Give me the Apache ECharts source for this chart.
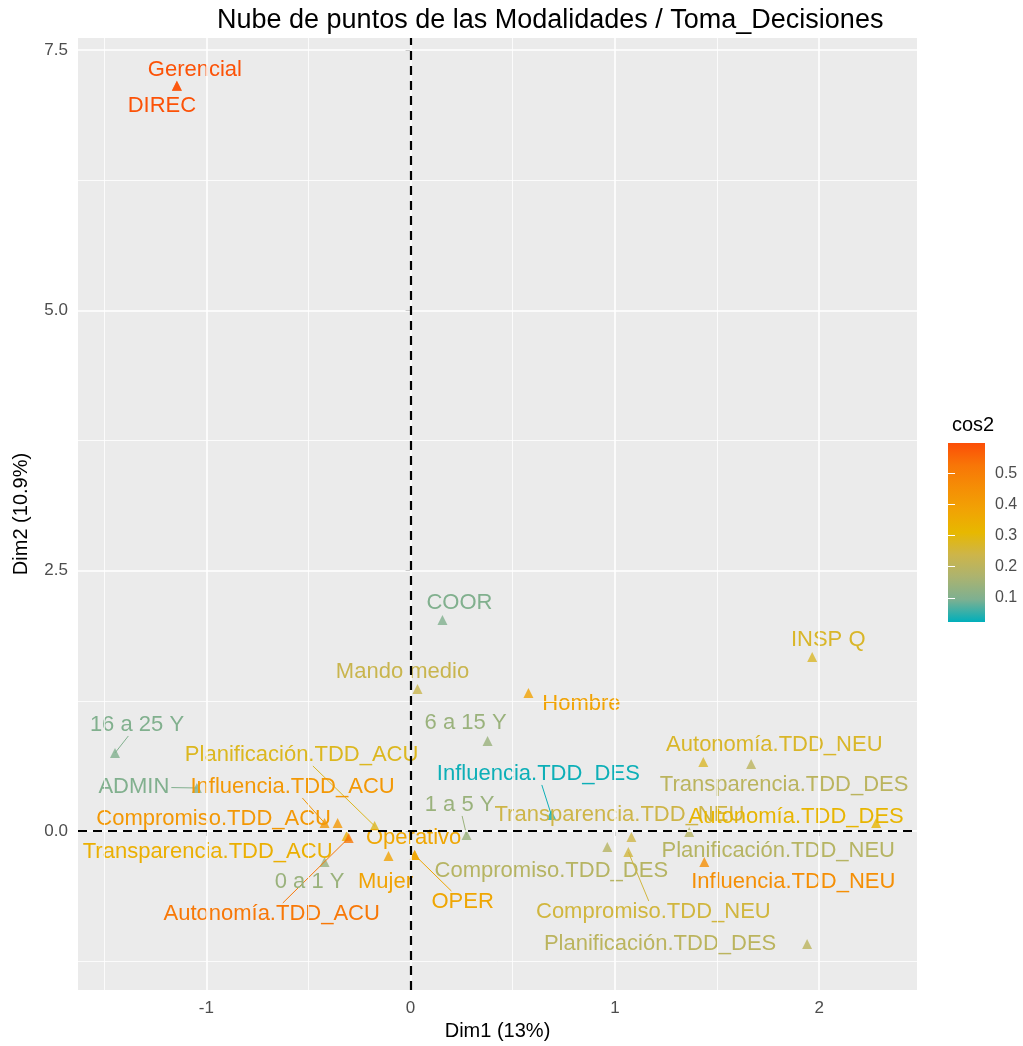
<!DOCTYPE html>
<html>
<head>
<meta charset="utf-8">
<script src="https://cdn.jsdelivr.net/npm/echarts@6/dist/echarts.min.js"></script>
<style>
html, body { margin: 0; padding: 0; background: #fff; }
#chart { width: 1023px; height: 1046px; }
</style>
</head>
<body>
<div id="chart"></div>
<script>
// modalities, coordinates on Dim1/Dim2 and cos2 quality
const labels = [
  'Gerencial', 'DIREC', 'COOR', 'INSP Q', 'Mando medio', 'Hombre',
  '16 a 25 Y', '6 a 15 Y', 'Autonomía.TDD_NEU', 'Transparencia.TDD_DES',
  'ADMIN', 'Planificación.TDD_ACU', 'Influencia.TDD_ACU', 'Compromiso.TDD_ACU',
  'Transparencia.TDD_ACU', 'Autonomía.TDD_ACU', '0 a 1 Y', 'Mujer',
  'Operativo', 'OPER', '1 a 5 Y', 'Influencia.TDD_DES', 'Transparencia.TDD_NEU',
  'Autonomía.TDD_DES', 'Planificación.TDD_NEU', 'Influencia.TDD_NEU',
  'Compromiso.TDD_DES', 'Compromiso.TDD_NEU', 'Planificación.TDD_DES'
];
const dim1 = [
  -1.144, -1.144, 0.156, 1.966, 0.034, 0.577,
  -1.447, 0.377, 1.433, 1.667,
  -1.046, -0.176, -0.421, -0.357,
  -0.313, -0.303, -0.421, -0.108,
  0.020, 0.020, 0.274, 0.689, 1.081,
  2.279, 1.364, 1.438,
  0.963, 1.066, 1.941
];
const dim2 = [
  7.157, 7.157, 2.027, 1.671, 1.364, 1.326,
  0.749, 0.865, 0.663, 0.644,
  0.413, 0.048, 0.077, 0.077,
  -0.048, -0.067, -0.298, -0.240,
  -0.231, -0.231, -0.038, 0.154, -0.058,
  0.077, -0.010, -0.298,
  -0.154, -0.202, -1.085
];
const cos2 = [
  0.59, 0.59, 0.10, 0.27, 0.23, 0.38,
  0.10, 0.14, 0.27, 0.20,
  0.10, 0.28, 0.42, 0.42,
  0.34, 0.52, 0.14, 0.38,
  0.37, 0.37, 0.14, 0.03, 0.24,
  0.32, 0.19, 0.45,
  0.19, 0.25, 0.20
];
const cos2Min = 0.0226;
const cos2Max = 0.597;

const xTicks = [-1, 0, 1, 2];
const xMinor = [-1.5, -0.5, 0.5, 1.5];
const yTicks = [0, 2.5, 5, 7.5];
const yMinor = [-1.25, 1.25, 3.75, 6.25];
const cos2Ticks = [0.1, 0.2, 0.3, 0.4, 0.5];

// repel-style label placement: [dx, dy, draw segment] in px from the point
const labelOffsets = [
  [18, -16, 0], [-15, 20, 0], [17, -17, 0], [16, -17, 0], [-15, -17, 0], [53, 11, 0],
  [22, -28, 1], [-22, -18, 0], [71, -17, 0], [33, 21, 0],
  [-63, -1, 1], [-73, -71, 1], [-32, -36, 1], [-124, -4, 0],
  [-139, 16, 0], [-77, 76, 1], [-15, 20, 0], [-3, 26, 0],
  [-1, -17, 0], [48, 47, 1], [-7, -30, 1], [-13, -41, 1], [-12, -22, 0],
  [-80, -6, 0], [89, 19, 0], [89, 20, 0],
  [-56, 24, 0], [25, 60, 1], [-147, 0, 0]
];

// teal -> yellow -> red-orange, sampled in Lab like ggplot's gradient
const gradCols = ['#00AFBB', '#7DB091', '#ABB370', '#CDB54A', '#E7B800',
  '#F1A304', '#F58E05', '#F87607', '#FC4E07'];
const labelFont = '22px "Liberation Sans", Arial, sans-serif';

const points = labels.map((name, i) => ({ name: name, value: [dim1[i], dim2[i], cos2[i]] }));

const measure = document.createElement('canvas').getContext('2d');
measure.font = labelFont;

function gridLines(vals, axis, width) {
  return vals.map(v => ({ [axis]: v, lineStyle: { color: '#fff', width: width, type: 'solid' } }));
}

const chart = echarts.init(document.getElementById('chart'), null, { renderer: 'canvas' });

chart.setOption({
  animation: false,
  backgroundColor: '#fff',
  textStyle: { fontFamily: '"Liberation Sans", Arial, sans-serif' },
  title: [
    {
      text: 'Nube de puntos de las Modalidades / Toma_Decisiones',
      left: 212, top: 2,
      textStyle: { fontSize: 27, fontWeight: 'normal', color: '#000' }
    },
    {
      text: 'cos2',
      left: 947, top: 410,
      textStyle: { fontSize: 20, fontWeight: 'normal', color: '#000' }
    }
  ],
  grid: [
    { left: 78, top: 38, width: 839, height: 952, show: true, backgroundColor: '#EBEBEB',
      borderWidth: 0, containLabel: false, outerBoundsMode: 'none' },
    { left: 948, top: 443, width: 37, height: 179, containLabel: false, outerBoundsMode: 'none' }
  ],
  xAxis: [
    {
      type: 'value', gridIndex: 0, min: -1.628, max: 2.479,
      name: 'Dim1 (13%)', nameLocation: 'middle', nameGap: 31,
      nameTextStyle: { fontSize: 20, color: '#000' },
      axisLine: { show: false },
      splitLine: { show: false },
      axisTick: { show: true, customValues: xTicks, length: 5, lineStyle: { color: '#333' } },
      axisLabel: { customValues: xTicks, color: '#4D4D4D', fontSize: 17, margin: 10 }
    },
    { type: 'value', gridIndex: 1, min: 0, max: 1, show: false }
  ],
  yAxis: [
    {
      type: 'value', gridIndex: 0, min: -1.527, max: 7.615,
      name: 'Dim2 (10.9%)', nameLocation: 'middle', nameGap: 47,
      nameTextStyle: { fontSize: 20, color: '#000' },
      axisLine: { show: false },
      splitLine: { show: false },
      axisTick: { show: true, customValues: yTicks, length: 5, lineStyle: { color: '#333' } },
      axisLabel: { customValues: yTicks, color: '#4D4D4D', fontSize: 17, margin: 10,
        formatter: v => v.toFixed(1) }
    },
    {
      type: 'value', gridIndex: 1, position: 'right', min: cos2Min, max: cos2Max, z: 10,
      axisLine: { show: false }, splitLine: { show: false },
      axisTick: { show: true, inside: true, length: 7, customValues: cos2Ticks, lineStyle: { color: '#fff', width: 1 } },
      axisLabel: { customValues: cos2Ticks, color: '#4D4D4D', fontSize: 16, margin: 10 }
    },
    {
      type: 'value', gridIndex: 1, position: 'left', min: cos2Min, max: cos2Max, z: 10,
      axisLine: { show: false }, splitLine: { show: false },
      axisTick: { show: true, inside: true, length: 7, customValues: cos2Ticks, lineStyle: { color: '#fff', width: 1 } },
      axisLabel: { show: false }
    }
  ],
  visualMap: {
    show: false,
    type: 'continuous',
    seriesIndex: [2, 3],
    dimension: 2,
    min: cos2Min,
    max: cos2Max,
    inRange: { color: gradCols }
  },
  series: [
    {
      // panel grid
      type: 'line', xAxisIndex: 0, yAxisIndex: 0, data: [], z: 1, silent: true,
      markLine: {
        silent: true, symbol: ['none', 'none'], label: { show: false },
        data: [].concat(
          gridLines(xMinor, 'xAxis', 0.8), gridLines(yMinor, 'yAxis', 0.8),
          gridLines(xTicks, 'xAxis', 1.6), gridLines(yTicks, 'yAxis', 1.6)
        )
      }
    },
    {
      // dashed origin lines
      type: 'line', xAxisIndex: 0, yAxisIndex: 0, data: [], z: 2, silent: true,
      markLine: {
        silent: true, symbol: ['none', 'none'], label: { show: false },
        lineStyle: { color: '#000', width: 2.2, type: [9, 6] },
        data: [{ xAxis: 0 }, { yAxis: 0 }]
      }
    },
    {
      type: 'scatter', xAxisIndex: 0, yAxisIndex: 0, z: 3,
      symbol: 'triangle', symbolSize: 10,
      data: points
    },
    {
      type: 'custom', xAxisIndex: 0, yAxisIndex: 0, z: 4,
      data: points,
      renderItem: function (params, api) {
        const i = params.dataIndex;
        const p = api.coord([api.value(0), api.value(1)]);
        const off = labelOffsets[i];
        const color = api.visual('color');
        const cx = p[0] + off[0];
        const cy = p[1] + off[1];
        const children = [];
        if (off[2]) {
          // segment from the point towards the label centre, clipped at the label box
          const hw = measure.measureText(labels[i]).width / 2 + 2;
          const hh = 11;
          const dx = cx - p[0], dy = cy - p[1];
          const k = Math.min(dx ? hw / Math.abs(dx) : Infinity, dy ? hh / Math.abs(dy) : Infinity);
          if (k < 1) {
            children.push({
              type: 'line',
              shape: { x1: p[0], y1: p[1], x2: cx - dx * k, y2: cy - dy * k },
              style: { stroke: color, lineWidth: 1 }
            });
          }
        }
        children.push({
          type: 'text', x: cx, y: cy,
          style: { text: labels[i], fill: color, font: labelFont, align: 'center', verticalAlign: 'middle' }
        });
        return { type: 'group', children: children };
      }
    },
    {
      // colour bar of the cos2 legend
      type: 'custom', xAxisIndex: 1, yAxisIndex: 1, z: 2, silent: true,
      data: [[0, cos2Min]],
      renderItem: function (params, api) {
        const cs = params.coordSys;
        return {
          type: 'rect',
          shape: { x: cs.x, y: cs.y, width: cs.width, height: cs.height },
          style: {
            fill: new echarts.graphic.LinearGradient(0, 1, 0, 0,
              gradCols.map((c, k) => ({ offset: k / (gradCols.length - 1), color: c })))
          }
        };
      }
    }
  ]
});
</script>
</body>
</html>
